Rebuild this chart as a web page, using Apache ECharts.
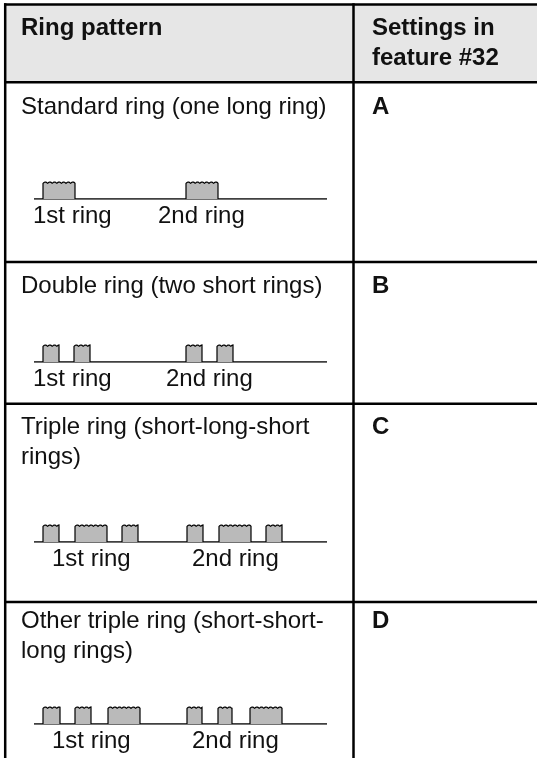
<!DOCTYPE html>
<html><head><meta charset="utf-8">
<script src="https://cdn.jsdelivr.net/npm/echarts@6/dist/echarts.min.js"></script>
<style>html,body{margin:0;padding:0;background:#fff}#c{width:537px;height:758px}</style>
</head><body><div id="c"></div>
<script>
// ---- table content ----
const headers = ['Ring pattern', 'Settings in\nfeature #32'];
const patternNames = [
  'Standard ring (one long ring)',
  'Double ring (two short rings)',
  'Triple ring (short-long-short\nrings)',
  'Other triple ring (short-short-\nlong rings)'
];
const settingsCodes = ['A', 'B', 'C', 'D'];
const ringLabels = ['1st ring', '2nd ring'];

// ---- ring pattern data (time units along the trace) ----
const traceSpan = [0, 293];
const pulsesA = [[9, 41], [152, 184]];
const pulsesB = [[9, 25], [40, 56], [152, 168], [183, 199]];
const pulsesC = [[9, 25], [41, 73], [88, 104], [153, 169], [185, 217], [232, 248]];
const pulsesD = [[9, 26], [41, 57], [74, 106], [153, 168], [184, 198], [216, 248]];
const ringLabelX = [[-1, 124], [-1, 132], [18, 158], [18, 158]];
const allPulses = [pulsesA, pulsesB, pulsesC, pulsesD];

// ---- layout (styling only) ----
const FONT = '"Liberation Sans", Arial, Helvetica, sans-serif';
const rowSeps = [82.3, 262, 403.7, 602];
const textBase = [116, 295, 436, 630];
const patBase = [199, 362, 542, 724];
const pulseH = 17;
const colDiv = 353.5;

const chart = echarts.init(document.getElementById('c'), null, {renderer: 'canvas'});

const graphic = [];
graphic.push({type: 'rect', z: 0, shape: {x: 5, y: 4.5, width: 540, height: rowSeps[0] - 4.5}, style: {fill: '#e6e6e6'}});
function hline(y) { graphic.push({type: 'line', z: 5, shape: {x1: 4, y1: y, x2: 540, y2: y}, style: {stroke: '#000', lineWidth: 2.5}}); }
function vline(x) { graphic.push({type: 'line', z: 5, shape: {x1: x, y1: 3.3, x2: x, y2: 770}, style: {stroke: '#000', lineWidth: 2.5}}); }
hline(4.5); rowSeps.forEach(hline); vline(5.2); vline(colDiv);
function txt(s, x, baseline, bold) {
  graphic.push({type: 'text', z: 6, x: x, y: baseline - 23.4,
    style: {text: s, font: (bold ? 'bold ' : '') + '24px ' + FONT, fill: '#111', lineHeight: 30, verticalAlign: 'top', align: 'left'}});
}
txt(headers[0], 21, 37, true);
txt(headers[1], 372, 37, true);
patternNames.forEach((n, i) => { txt(n, 21, textBase[i], false); txt(settingsCodes[i], 372, textBase[i], true); });

const grids = [], xAxes = [], yAxes = [], series = [];
allPulses.forEach((pulses, i) => {
  grids.push({left: 34, width: 293, top: patBase[i] - pulseH, height: pulseH, containLabel: false});
  xAxes.push({type: 'value', gridIndex: i, min: traceSpan[0], max: traceSpan[1], show: false});
  yAxes.push({type: 'value', gridIndex: i, min: 0, max: 1, show: false});
  series.push({type: 'line', xAxisIndex: i, yAxisIndex: i, data: [[traceSpan[0], 0], [traceSpan[1], 0]],
    symbol: 'none', silent: true, animation: false, lineStyle: {color: '#000', width: 1.3}, z: 2});
  series.push({type: 'custom', xAxisIndex: i, yAxisIndex: i, data: pulses, animation: false, silent: true, z: 3,
    renderItem: function (params, api) {
      const p0 = api.coord([api.value(0), 0]);
      const p1 = api.coord([api.value(1), 1]);
      const x0 = p0[0], x1 = p1[0], yb = p0[1], yt = p1[1];
      const top = [];
      const period = 4.6, amp = 1.4;
      for (let x = x0; x <= x1 + 0.01; x += 0.5) {
        top.push([x, yt + amp * (1 - Math.abs(Math.sin(Math.PI * (x - x0) / period)))]);
      }
      const poly = [[x0, yb]].concat(top).concat([[x1, yb]]);
      return {type: 'group', children: [
        {type: 'polygon', shape: {points: poly}, style: {fill: '#bababa', stroke: null}},
        {type: 'polyline', shape: {points: poly}, style: {fill: null, stroke: '#000', lineWidth: 1.2}}
      ]};
    }});
  series.push({type: 'custom', xAxisIndex: i, yAxisIndex: i,
    data: ringLabelX[i].map((x, k) => [x, 0, k]), animation: false, silent: true, z: 4,
    renderItem: function (params, api) {
      const p = api.coord([api.value(0), 0]);
      return {type: 'text', x: p[0], y: p[1] + 26 - 23.4 + 0,
        style: {text: ringLabels[api.value(2)], font: '24px ' + FONT, fill: '#111', lineHeight: 30, verticalAlign: 'top', align: 'left'}};
    }});
});

chart.setOption({animation: false, backgroundColor: '#fff', grid: grids, xAxis: xAxes, yAxis: yAxes, series: series, graphic: graphic});
</script></body></html>
